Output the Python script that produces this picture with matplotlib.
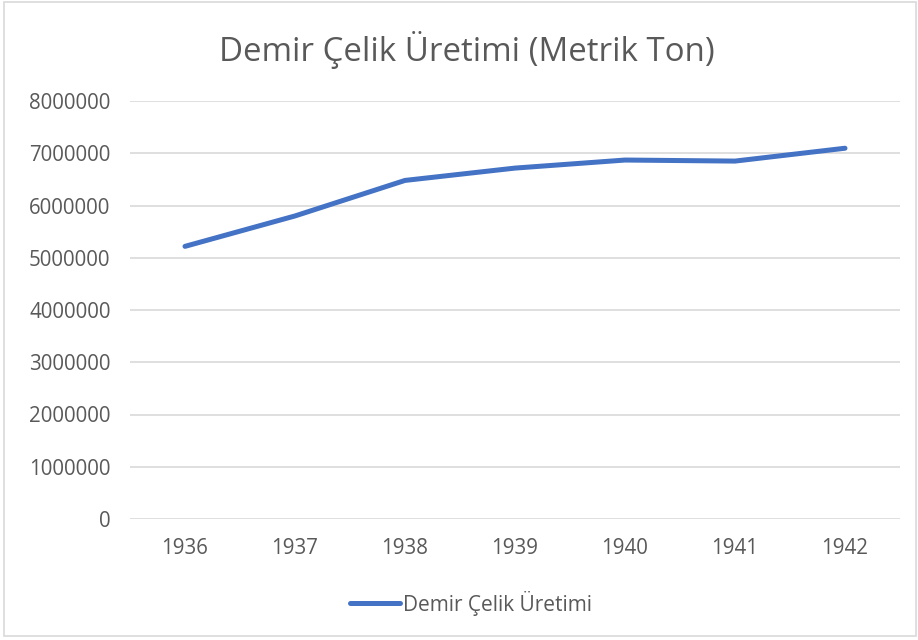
import matplotlib.pyplot as plt
from matplotlib.patches import Rectangle

plt.rcParams['font.family'] = ['Open Sans', 'DejaVu Sans']

years = ["1936", "1937", "1938", "1939", "1940", "1941", "1942"]
production = [5218000, 5800000, 6480000, 6716000, 6870000, 6850000, 7096000]
yticks = [0, 1000000, 2000000, 3000000, 4000000, 5000000, 6000000, 7000000, 8000000]

text_color = "#595959"
line_color = "#4472C4"

fig = plt.figure(figsize=(9.18, 6.4), dpi=100)
ax = fig.add_axes([130 / 918, 1 - 519 / 640, 770 / 918, 418 / 640])

xs = list(range(len(years)))
ax.plot(xs, production, color=line_color, linewidth=3.6,
        solid_capstyle="round", solid_joinstyle="round",
        label="Demir Çelik Üretimi", zorder=3)

ax.set_xlim(-0.5, len(years) - 0.5)
ax.set_ylim(0, 8000000)
ax.set_xticks(xs)
ax.set_xticklabels(years)
ax.set_yticks(yticks)
ax.set_yticklabels([str(v) for v in yticks])
ax.tick_params(colors=text_color, labelsize=14.8, length=0)
ax.tick_params(axis="x", pad=14)
ax.tick_params(axis="y", pad=14)

ax.grid(axis="y", color="#D9D9D9", linewidth=1.2, zorder=0)
for s in ax.spines.values():
    s.set_visible(False)

fig.text(467 / 918, 1 - 50 / 640, "Demir Çelik Üretimi (Metrik Ton)",
         ha="center", va="center", fontsize=23.8, color=text_color)

leg = fig.legend(loc="center", bbox_to_anchor=(471 / 918, 1 - 603 / 640),
                 frameon=False, fontsize=15, handlelength=2.4,
                 handletextpad=0.1, labelcolor=text_color)

# chart border
fig.patches.append(Rectangle((4 / 918, 4 / 640), 912 / 918, 634 / 640,
                             transform=fig.transFigure, fill=False,
                             edgecolor="#D9D9D9", linewidth=1.2))

fig.savefig("out.png", dpi=100)
